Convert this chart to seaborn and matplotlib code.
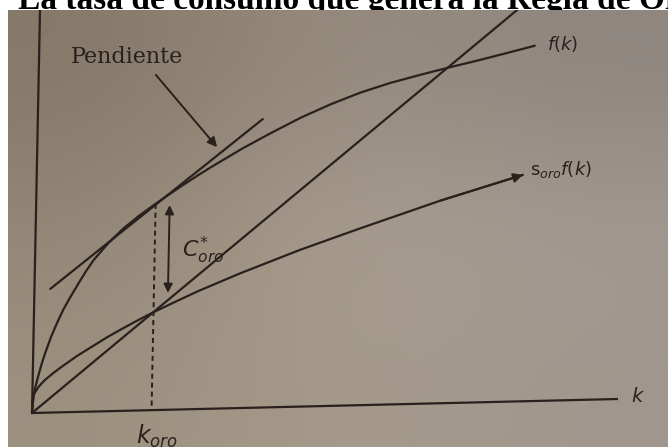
import numpy as np
import matplotlib
matplotlib.use("Agg")
import matplotlib.pyplot as plt
from matplotlib.transforms import Affine2D
import seaborn as sns

# ---- curves of the Solow golden-rule diagram (k on the horizontal axis) ----
# production function f(k)
k_f = [0, 0.02, 0.05, 0.1, 0.15, 0.2, 0.3, 0.4, 0.5, 0.625, 0.75, 0.875,
       1.0, 1.25, 1.5, 1.75, 2.0, 2.25, 2.5, 2.75, 3.0, 3.5, 4.0, 4.5, 5.0,
       5.5, 6.0, 6.5, 7.0, 7.5, 8.0, 8.46]
f_k = [0, 0.42, 0.65, 0.95, 1.22, 1.46, 1.88, 2.23, 2.55, 2.88, 3.19, 3.49,
       3.76, 4.18, 4.53, 4.82, 5.08, 5.33, 5.57, 5.8, 6.02, 6.44, 6.82, 7.18,
       7.49, 7.76, 7.98, 8.16, 8.33, 8.49, 8.66, 8.82]

# saving curve s_oro f(k)
k_s = [0, 0.02, 0.1, 0.2, 0.35, 0.5, 0.75, 1.0, 1.25, 1.5, 1.75, 2.04, 2.4,
       2.8, 3.5, 4.5, 5.5, 6.9, 8.3]
s_k = [0, 0.45, 0.64, 0.8, 0.98, 1.14, 1.39, 1.61, 1.83, 2.03, 2.22, 2.43,
       2.67, 2.93, 3.34, 3.88, 4.37, 5.03, 5.62]

# break-even investment line
k_line = [0, 8.6]
y_line = [0, 10.26]

# tangent to f(k) at the golden-rule capital stock
k_tan = [0.27, 3.84]
y_tan = [3.07, 7.16]

# golden-rule capital stock and the two curve values above it
k_oro = 2.04
f_oro = 5.12
s_oro = 2.43

W, H = 668, 447
fig = plt.figure(figsize=(W / 100, H / 100), dpi=100)
fig.patch.set_facecolor("white")
sns.set_style("white")
plt.rcParams["mathtext.fontset"] = "dejavusans"

ax = fig.add_axes([8 / W, 0, (W - 8) / W, (H - 10) / H])
ax.set_xlim(8, W)
ax.set_ylim(0, H - 10)
ax.axis("off")

# paper tone of the page
paper = np.array([
    [[132, 120, 105], [152, 141, 126], [141, 133, 127]],
    [[146, 134, 118], [172, 161, 146], [163, 154, 147]],
    [[156, 144, 127], [167, 156, 140], [160, 150, 141]],
]) / 255.0
ax.imshow(paper, extent=(8, W, 0, H - 10), interpolation="bicubic",
          aspect="auto", zorder=0)

# slightly skewed frame of the printed page
tr = Affine2D(np.array([[58.6, 0.8, 32.0],
                        [1.4, 40.3, 34.0],
                        [0.0, 0.0, 1.0]])) + ax.transData

ink = "#2a201d"
lw = 1.6

# axes
ax.plot([0, 10], [0, 0], color=ink, lw=lw, transform=tr, zorder=3,
        solid_capstyle="butt")
ax.plot([0, 0], [0, 10.5], color=ink, lw=lw, transform=tr, zorder=3)

for xs, ys in [(k_f, f_k), (k_s, s_k), (k_line, y_line), (k_tan, y_tan)]:
    sns.lineplot(x=xs, y=ys, ax=ax, color=ink, lw=lw, sort=False,
                 estimator=None, transform=tr, zorder=3)

# dashed guide at k_oro
ax.plot([k_oro, k_oro], [f_oro, 0], color=ink, lw=1.4,
        linestyle=(0, (2.6, 2.0)), transform=tr, zorder=3)

arrow = dict(arrowstyle="-|>", color=ink, lw=1.4, mutation_scale=14,
             shrinkA=0, shrinkB=0)

# arrow head on the saving curve
ax.annotate("", xy=(k_s[-1], s_k[-1]), xytext=(k_s[-2], s_k[-2]),
            xycoords=tr, textcoords=tr, arrowprops=arrow, zorder=4)

# "Pendiente" pointer
ax.annotate("", xy=(3.07, 6.49), xytext=(2.0, 8.32),
            xycoords=tr, textcoords=tr, arrowprops=arrow, zorder=4)
ax.text(1.50, 8.78, "Pendiente", transform=tr, ha="center", va="center",
        family="DejaVu Serif", fontsize=16, color=ink, zorder=5)

# consumption gap arrow
gap = dict(arrowstyle="<|-|>", color=ink, lw=1.4, mutation_scale=13,
           shrinkA=0, shrinkB=0)
ax.annotate("", xy=(k_oro + 0.24, f_oro - 0.04),
            xytext=(k_oro + 0.24, s_oro + 0.47),
            xycoords=tr, textcoords=tr, arrowprops=gap, zorder=4)
ax.text(2.50, 3.96, r"$C^{*}_{oro}$", transform=tr, ha="left", va="center",
        fontsize=16, color=ink, zorder=5)

# curve and axis labels
ax.text(8.67, 8.86, r"$f(k)$", transform=tr, ha="left", va="center",
        fontsize=13, color=ink, zorder=5)
ax.text(8.42, 5.74, r"$\mathrm{s}_{oro}f(k)$", transform=tr, ha="left",
        va="center", fontsize=13, color=ink, zorder=5)
ax.text(10.34, 0.06, r"$k$", transform=tr, ha="center", va="center",
        fontsize=14, color=ink, zorder=5)
ax.text(1.78, -0.82, r"$k_{oro}$", transform=tr, ha="left", va="baseline",
        fontsize=17, color=ink, zorder=5)

# heading
fig.text(18 / W, (H - 9) / H, "La tasa de consumo que genera la Regla de Oro",
         family="Liberation Serif", weight="bold", fontsize=24, color="black",
         ha="left", va="baseline", zorder=-1)

ax.set_xlim(8, W)
ax.set_ylim(0, H - 10)
fig.savefig("out.png", dpi=100, facecolor="white")
